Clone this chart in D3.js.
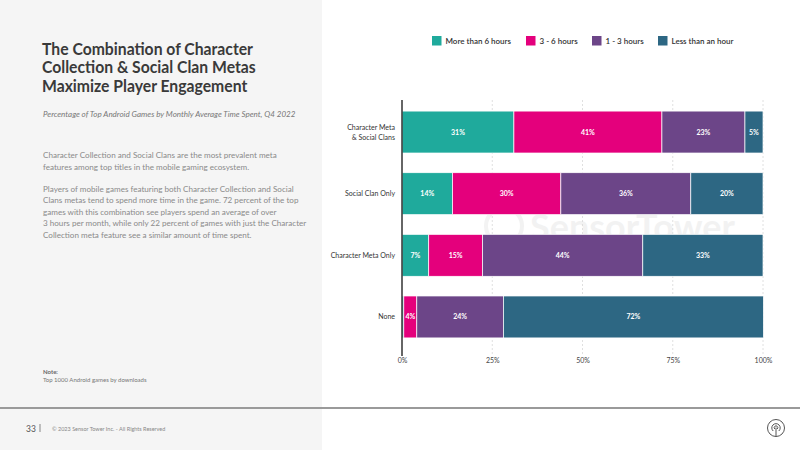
<!DOCTYPE html>
<html>
<head>
<meta charset="utf-8">
<script src="https://cdn.jsdelivr.net/npm/d3@7"></script>
<style>
  body { margin: 0; background: #fff; }
  svg { display: block; font-family: "Lato", "Noto Sans", sans-serif; }
</style>
</head>
<body>
<div id="chart"></div>
<script>
var categories = ["Character Meta & Social Clans", "Social Clan Only", "Character Meta Only", "None"];
var seriesNames = ["More than 6 hours", "3 - 6 hours", "1 - 3 hours", "Less than an hour"];
var moreThan6 = [31, 14, 7.4, 0.5];
var from3to6 = [41, 30, 14.9, 3.6];
var from1to3 = [23, 36, 44.4, 24];
var lessThan1 = [5, 20, 33.3, 72];
var xTicks = [0, 25, 50, 75, 100];
var colors = ["#1faa9c", "#e4007c", "#6c4588", "#2d6783"];

var svgWidth = 800, svgHeight = 450;

var svg = d3.select("#chart").append("svg")
  .attr("width", svgWidth)
  .attr("height", svgHeight);

// left panel
svg.append("rect").attr("x", 0).attr("y", 0).attr("width", 322).attr("height", svgHeight).attr("fill", "#f5f5f5");
svg.append("rect").attr("x", 0).attr("y", 407).attr("width", svgWidth).attr("height", 2).attr("fill", "#9a9a9a");

// title + texts
var titleLines = ["The Combination of Character", "Collection & Social Clan Metas", "Maximize Player Engagement"];
svg.append("g").attr("transform", "translate(42,0) scale(0.9,1)")
  .selectAll("text").data(titleLines).enter().append("text")
  .attr("x", 0).attr("y", (d, i) => 55 + i * 18.3)
  .attr("font-size", 17.5).attr("font-weight", 700).attr("fill", "#3a3a3a")
  .text(d => d);

svg.append("text").attr("x", 43).attr("y", 117)
  .attr("font-size", 8).attr("font-style", "italic").attr("fill", "#777")
  .text("Percentage of Top Android Games by Monthly Average Time Spent, Q4 2022");

var bodyLines = [
  ["Character Collection and Social Clans are the most prevalent meta", 158],
  ["features among top titles in the mobile gaming ecosystem.", 169.5],
  ["Players of mobile games featuring both Character Collection and Social", 191.5],
  ["Clans metas tend to spend more time in the game. 72 percent of the top", 203],
  ["games with this combination see players spend an average of over", 214.5],
  ["3 hours per month, while only 22 percent of games with just the Character", 226],
  ["Collection meta feature see a similar amount of time spent.", 237.5]
];
svg.append("g").selectAll("text").data(bodyLines).enter().append("text")
  .attr("x", 43).attr("y", d => d[1])
  .attr("font-size", 8.1).attr("fill", "#8a8a8a")
  .text(d => d[0]);

svg.append("text").attr("x", 43).attr("y", 374).attr("font-size", 6).attr("font-weight", 700).attr("fill", "#666").text("Note:");
svg.append("text").attr("x", 43).attr("y", 382).attr("font-size", 6).attr("fill", "#777").text("Top 1000 Android games by downloads");

// footer
svg.append("text").attr("x", 26).attr("y", 432).attr("font-size", 8.5).attr("fill", "#555").text("33");
svg.append("rect").attr("x", 39.5).attr("y", 424).attr("width", 1).attr("height", 8).attr("fill", "#888");
svg.append("text").attr("x", 52).attr("y", 431).attr("font-size", 5.5).attr("fill", "#888").text("\u00a9 2023 Sensor Tower Inc. - All Rights Reserved");

// logo bottom right
var logo = svg.append("g").attr("transform", "translate(776,428)").attr("fill", "none").attr("stroke", "#555").attr("stroke-width", 1);
logo.append("circle").attr("r", 8.5);
logo.append("path").attr("d", "M-2.8,3 A4.2,4.2 0 1 1 2.8,3");
logo.append("path").attr("d", "M-1.2,1 A1.8,1.8 0 1 1 1.2,1");
logo.append("line").attr("x1", 0).attr("y1", -0.5).attr("x2", 0).attr("y2", 8.5);

// watermark
var wm = svg.append("g").attr("opacity", 0.06);
wm.append("circle").attr("cx", 504).attr("cy", 226).attr("r", 18).attr("fill", "none").attr("stroke", "#333").attr("stroke-width", 4);
wm.append("text").attr("x", 530).attr("y", 240).attr("font-size", 36).attr("font-weight", 700).attr("fill", "#333").text("SensorTower");

// legend
var legendX = [432, 526, 592, 658];
var legend = svg.append("g").selectAll("g").data(seriesNames).enter().append("g")
  .attr("transform", (d, i) => `translate(${legendX[i]}, 36)`);
legend.append("rect").attr("width", 9.5).attr("height", 9.5).attr("fill", (d, i) => colors[i]);
legend.append("text").attr("x", 13.5).attr("y", 8).attr("font-size", 8).attr("font-weight", 600).attr("fill", "#333").text(d => d);

// chart
var x = d3.scaleLinear().domain([0, 100]).range([402, 763]);
var y = d3.scaleBand().domain(categories).range([100, 349]).paddingInner(0.32).paddingOuter(0.18);

// grid
svg.append("g").selectAll("line").data(xTicks.slice(1)).enter().append("line")
  .attr("x1", d => x(d)).attr("x2", d => x(d))
  .attr("y1", 100).attr("y2", 354)
  .attr("stroke", "#d8d8d8").attr("stroke-width", 0.8).attr("stroke-dasharray", "2,2");

var rows = categories.map((c, i) => ({
  cat: c,
  vals: [moreThan6[i], from3to6[i], from1to3[i], lessThan1[i]]
}));

var segs = [];
rows.forEach(r => {
  var acc = 0;
  r.vals.forEach((v, j) => {
    segs.push({ cat: r.cat, x0: acc, x1: acc + v, v: v, j: j });
    acc += v;
  });
});

var bars = svg.append("g");
bars.selectAll("rect").data(segs).enter().append("rect")
  .attr("x", d => x(d.x0))
  .attr("y", d => y(d.cat))
  .attr("width", d => x(d.x1) - x(d.x0))
  .attr("height", y.bandwidth())
  .attr("fill", d => colors[d.j])
  .attr("stroke", "#fff").attr("stroke-width", 0.7);

bars.selectAll("text").data(segs.filter(d => d.v >= 3)).enter().append("text")
  .attr("x", d => (x(d.x0) + x(d.x1)) / 2)
  .attr("y", d => y(d.cat) + y.bandwidth() / 2 + 2.5)
  .attr("text-anchor", "middle")
  .attr("font-size", 7).attr("font-weight", 700).attr("fill", "#fff")
  .text(d => Math.round(d.v) + "%");

// category labels
var catLines = { "Character Meta & Social Clans": ["Character Meta", "& Social Clans"] };
categories.forEach(c => {
  var lines = catLines[c] || [c];
  var cy = y(c) + y.bandwidth() / 2;
  lines.forEach((l, k) => {
    svg.append("text")
      .attr("x", 395).attr("y", cy + 2.5 + (k - (lines.length - 1) / 2) * 10)
      .attr("text-anchor", "end").attr("font-size", 7).attr("fill", "#333")
      .text(l);
  });
});

// x axis
var xAxis = svg.append("g").attr("transform", "translate(0,354)")
  .call(d3.axisBottom(x).tickValues(xTicks).tickSize(0).tickFormat(d => d + "%"));
xAxis.select(".domain").remove();
xAxis.selectAll("text").attr("font-size", 7).attr("fill", "#444").attr("dy", "0.85em")
  .style("font-family", "Lato, 'Noto Sans', sans-serif");

svg.append("line").attr("x1", 402).attr("x2", 402).attr("y1", 100).attr("y2", 356)
  .attr("stroke", "#333").attr("stroke-width", 1.5);
</script>
</body>
</html>
